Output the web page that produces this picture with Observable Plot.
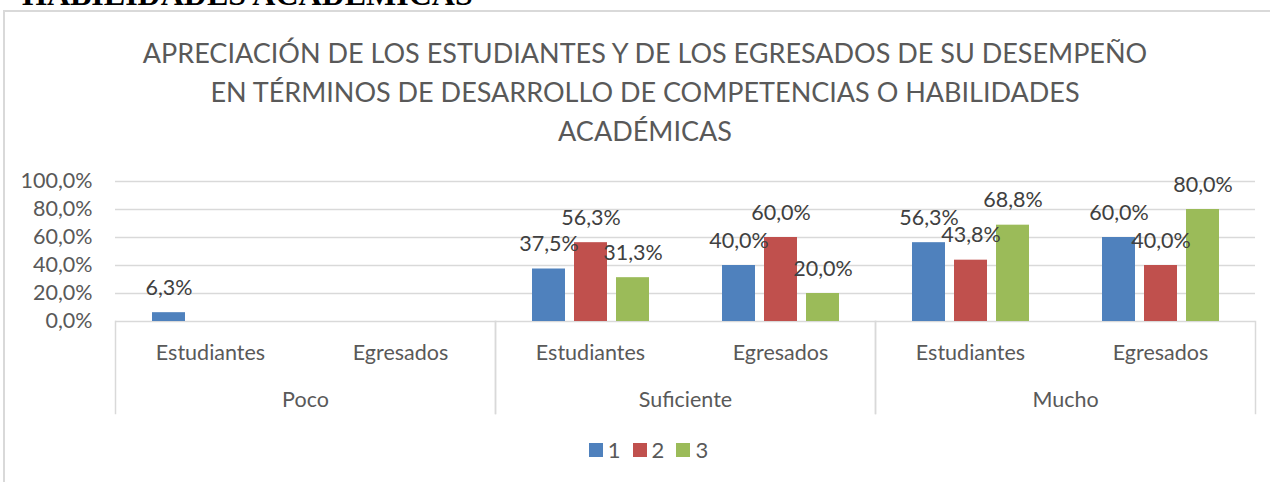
<!DOCTYPE html>
<html>
<head>
<meta charset="utf-8">
<script src="https://cdn.jsdelivr.net/npm/d3@7"></script>
<script src="https://cdn.jsdelivr.net/npm/@observablehq/plot@0.6"></script>
<style>
  html, body { margin: 0; padding: 0; background: #fff; }
  #wrap { position: relative; width: 1270px; height: 482px; overflow: hidden; font-family: Lato, "Open Sans", sans-serif; }
  #head { position: absolute; left: 22px; top: -22px; font: bold 32px "Liberation Serif", serif; line-height: 32px; color: #000; white-space: nowrap; }
  #frame { position: absolute; left: 3px; top: 10px; width: 1400px; height: 600px; border-left: 2px solid #d9d9d9; border-top: 2px solid #d9d9d9; }
  #title { position: absolute; left: 0; top: 33px; width: 1290px; text-align: center; color: #595959; font-family: Lato, sans-serif; font-weight: 400; font-size: 27px; line-height: 39px; }
  #plotA { position: absolute; left: 0; top: 160px; }
  #plotB { position: absolute; left: 0; top: 321px; }
  #legend { position: absolute; left: 0; top: 440px; width: 1297px; display: flex; justify-content: center; color: #595959; font-size: 22px; line-height: 20px; }
  .item { display: inline-flex; align-items: center; margin: 0 6px; }
  .sw { width: 14px; height: 14px; margin-right: 5px; }
</style>
</head>
<body>
<div id="wrap">
  <div id="head"></div>
  <div id="frame"></div>
  <div id="title"></div>
  <div id="plotA"></div>
  <div id="plotB"></div>
  <div id="legend"></div>
</div>
<script>
// ---- data ----
const headText = "HABILIDADES ACADÉMICAS";
const titleLines = [
  "APRECIACIÓN DE LOS ESTUDIANTES Y DE LOS EGRESADOS DE SU DESEMPEÑO",
  "EN TÉRMINOS DE DESARROLLO DE COMPETENCIAS O HABILIDADES",
  "ACADÉMICAS"
];
const groups = ["Poco", "Suficiente", "Mucho"];
const subs = ["Estudiantes", "Egresados"];
const series = ["1", "2", "3"];
const seriesColors = ["#4F81BD", "#C0504D", "#9BBB59"];
// values in %, order: Poco-Est, Poco-Egr, Suf-Est, Suf-Egr, Mucho-Est, Mucho-Egr
const serie1 = [6.3, null, 37.5, 40.0, 56.3, 60.0];
const serie2 = [null, null, 56.3, 60.0, 43.8, 40.0];
const serie3 = [null, null, 31.3, 20.0, 68.8, 80.0];
const yTicks = [0, 20, 40, 60, 80, 100];

// ---- build tables ----
const cells = [];
groups.forEach(g => subs.forEach(s => cells.push({group: g, sub: s, key: g + "|" + s})));
const seriesValues = [serie1, serie2, serie3];
const rows = [];
cells.forEach((c, i) => series.forEach((se, j) => {
  rows.push({key: c.key, series: se, value: seriesValues[j][i]});
}));
const labelled = rows.filter(d => d.value != null);
const fmt = v => v.toFixed(1).replace(".", ",") + "%";

document.getElementById("head").textContent = headText;
document.getElementById("title").innerHTML = titleLines.map(t => `<div>${t}</div>`).join("");

const font = {fontFamily: "Lato, 'Open Sans', sans-serif", fontSize: "21.5px", color: "#595959", background: "transparent", overflow: "visible"};

// ---- main plot: bars ----
const plotA = Plot.plot({
  width: 1270,
  height: 173,
  marginTop: 21,
  marginBottom: 12,
  marginLeft: 115,
  marginRight: 15,
  style: font,
  fx: {domain: cells.map(c => c.key), padding: 0, axis: null},
  x: {type: "band", domain: series, paddingInner: 9 / 42, paddingOuter: 0.869, axis: null},
  y: {domain: [0, 100], axis: null},
  color: {domain: series, range: seriesColors},
  marks: [
    Plot.ruleY(yTicks, {stroke: "#d9d9d9", strokeWidth: 1.3}),
    Plot.barY(rows, {fx: "key", x: "series", y: "value", fill: "series"}),
    Plot.text(labelled, {fx: "key", x: "series", y: "value", text: d => fmt(d.value), lineAnchor: "bottom", dy: -18, fill: "#404040"}),
    Plot.axisY({ticks: yTicks, tickFormat: fmt, tickSize: 0, tickPadding: 23, label: null, facetAnchor: "left", fill: "#595959"})
  ]
});
document.getElementById("plotA").appendChild(plotA);

// ---- category axis ----
const plotB = Plot.plot({
  width: 1270,
  height: 92,
  marginTop: 0,
  marginBottom: 0,
  marginLeft: 115,
  marginRight: 15,
  style: font,
  fx: {domain: groups, padding: 0, axis: null},
  x: {type: "band", domain: subs, padding: 0, axis: null},
  y: {axis: null},
  marks: [
    Plot.frame({anchor: "left", stroke: "#d9d9d9", strokeWidth: 1.5}),
    Plot.frame({anchor: "right", stroke: "#d9d9d9", strokeWidth: 1.5}),
    Plot.text(cells, {fx: "group", x: "sub", text: "sub", frameAnchor: "top", lineAnchor: "bottom", dy: 38, fill: "#595959"}),
    Plot.text(groups, {fx: d => d, text: d => d, frameAnchor: "top", lineAnchor: "bottom", dy: 85, fill: "#595959"})
  ]
});
document.getElementById("plotB").appendChild(plotB);

// ---- legend ----
const legend = document.getElementById("legend");
series.forEach((s, i) => {
  const it = document.createElement("span");
  it.className = "item";
  it.innerHTML = `<span class="sw" style="background:${seriesColors[i]}"></span><span>${s}</span>`;
  legend.appendChild(it);
});
</script>
</body>
</html>
